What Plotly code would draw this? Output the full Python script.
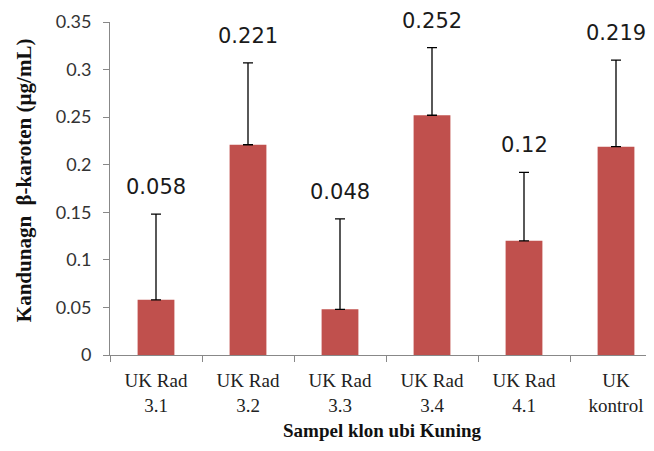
import plotly.graph_objects as go

categories = ["UK Rad<br>3.1", "UK Rad<br>3.2", "UK Rad<br>3.3", "UK Rad<br>3.4", "UK Rad<br>4.1", "UK<br>kontrol"]
values = [0.058, 0.221, 0.048, 0.252, 0.12, 0.219]
errors = [0.090, 0.086, 0.095, 0.071, 0.072, 0.091]
labels = ["0.058", "0.221", "0.048", "0.252", "0.12", "0.219"]
yticks = [0, 0.05, 0.1, 0.15, 0.2, 0.25, 0.3, 0.35]

L, W = 102, 646
cat_px = 92.0
x_end = -0.5 + (W - L) / cat_px

fig = go.Figure()
fig.add_trace(go.Bar(
    x=categories, y=values,
    marker=dict(color="#C0504D", line=dict(width=0)),
    error_y=dict(type="data", array=errors, arrayminus=[0] * len(errors), symmetric=False,
                 visible=True, color="black", thickness=1.3, width=5),
    showlegend=False,
))

for c, v, e, t in zip(categories, values, errors, labels):
    fig.add_annotation(x=c, y=v + e, text=t, showarrow=False, yanchor="bottom", yshift=13,
                       font=dict(family="DejaVu Sans", size=21, color="#1a1a1a"))

# y-axis title placed as a rotated annotation
fig.add_annotation(xref="paper", yref="paper", x=-(L - 16) / (W - L), y=0.525,
                   xanchor="center", yanchor="middle",
                   text="<b>Kandunagn  β-karoten (µg/mL)</b>", textangle=-90, showarrow=False,
                   font=dict(family="Liberation Serif", size=21, color="#111111"))

fig.update_layout(
    width=W, height=451,
    margin=dict(l=L, r=0, t=14, b=104),
    paper_bgcolor="white", plot_bgcolor="white",
    bargap=0.6,
    xaxis=dict(
        automargin=False, range=[-0.5, x_end],
        showline=True, linecolor="#888888", linewidth=1,
        ticks="outside", tickson="boundaries", ticklen=6, tickcolor="#888888",
        ticklabelstandoff=8,
        tickfont=dict(family="Liberation Serif", size=19, color="#222222"),
        title=dict(text="<b>Sampel klon ubi Kuning</b>", standoff=9,
                   font=dict(family="Liberation Serif", size=19, color="#111111")),
    ),
    yaxis=dict(
        automargin=False,
        range=[0, 0.35], tickvals=yticks, ticktext=[f"{v:g}" for v in yticks],
        showline=True, linecolor="#888888", linewidth=1,
        ticks="outside", ticklen=6, tickcolor="#888888", showgrid=False, zeroline=False,
        ticklabelstandoff=8,
        tickfont=dict(family="Lato", size=18, color="#333333"),
    ),
)

fig.write_html("out.html")
